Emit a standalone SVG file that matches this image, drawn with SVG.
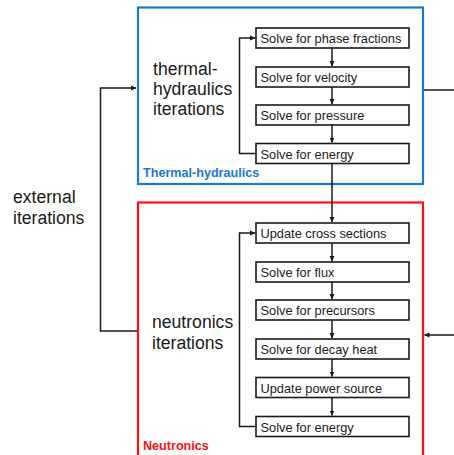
<svg xmlns="http://www.w3.org/2000/svg" width="454" height="455" viewBox="0 0 454 455">
<defs>
<marker id="ah" markerWidth="6" markerHeight="6" refX="5" refY="3" orient="auto" markerUnits="userSpaceOnUse">
<path d="M0,0.5 L5.5,3 L0,5.5 Z" fill="#1a1a1a"/>
</marker>
<style>
.step rect{fill:#fff;stroke:#1a1a1a;stroke-width:1.6}
.step text{font-family:"Liberation Sans",Arial,sans-serif;font-size:12.8px;fill:#1a1a1a}
.big{font-family:"Liberation Sans",Arial,sans-serif;font-size:17.6px;fill:#1a1a1a}
.lbl{font-family:"Liberation Sans",Arial,sans-serif;font-size:12.6px;font-weight:bold}
.conn path{fill:none;stroke:#1a1a1a;stroke-width:1.5}
</style>
</defs>
<rect width="454" height="455" fill="#fff"/>
<g id="th-group">
<rect x="138" y="7.5" width="285" height="176.5" fill="none" stroke="#1a7ad0" stroke-width="2.2"/>
<text class="lbl" x="143" y="177" fill="#1a7ad0">Thermal-hydraulics</text>
<text class="big" x="153" y="75">thermal-</text>
<text class="big" x="153" y="95">hydraulics</text>
<text class="big" x="153" y="115">iterations</text>
</g>
<g id="n-group">
<rect x="138" y="202.5" width="285" height="270" fill="none" stroke="#ff1010" stroke-width="2.2"/>
<text class="lbl" x="143" y="450" fill="#ff1010">Neutronics</text>
<text class="big" x="152" y="328">neutronics</text>
<text class="big" x="152" y="349">iterations</text>
</g>
<g id="ext-label">
<text class="big" x="13" y="203">external</text>
<text class="big" x="13" y="224">iterations</text>
</g>
<g id="th1" class="step"><rect x="256" y="28" width="153" height="20"/><text x="260.5" y="43">Solve for phase fractions</text></g>
<g id="th2" class="step"><rect x="256" y="67" width="153" height="20"/><text x="260.5" y="82">Solve for velocity</text></g>
<g id="th3" class="step"><rect x="256" y="105" width="153" height="20"/><text x="260.5" y="120">Solve for pressure</text></g>
<g id="th4" class="step"><rect x="256" y="143.5" width="153" height="20"/><text x="260.5" y="158.5">Solve for energy</text></g>
<g id="n1" class="step"><rect x="256" y="223" width="153" height="20"/><text x="260.5" y="238">Update cross sections</text></g>
<g id="n2" class="step"><rect x="256" y="262" width="153" height="20"/><text x="260.5" y="277">Solve for flux</text></g>
<g id="n3" class="step"><rect x="256" y="300" width="153" height="20"/><text x="260.5" y="315">Solve for precursors</text></g>
<g id="n4" class="step"><rect x="256" y="339" width="153" height="20"/><text x="260.5" y="354">Solve for decay heat</text></g>
<g id="n5" class="step"><rect x="256" y="377.5" width="153" height="20"/><text x="260.5" y="392.5">Update power source</text></g>
<g id="n6" class="step"><rect x="256" y="416.5" width="153" height="20"/><text x="260.5" y="431.5">Solve for energy</text></g>
<g id="connectors" class="conn">
<path d="M332,48 V66" marker-end="url(#ah)"/>
<path d="M332,87 V104" marker-end="url(#ah)"/>
<path d="M332,125 V142.5" marker-end="url(#ah)"/>
<path d="M256,153.5 H239.5 V38 H255" marker-end="url(#ah)"/>
<path d="M332,163.5 V222" marker-end="url(#ah)"/>
<path d="M332,243 V261" marker-end="url(#ah)"/>
<path d="M332,282 V299" marker-end="url(#ah)"/>
<path d="M332,320 V338" marker-end="url(#ah)"/>
<path d="M332,359 V376.5" marker-end="url(#ah)"/>
<path d="M332,397.5 V415.5" marker-end="url(#ah)"/>
<path d="M256,426.5 H239.5 V233 H255" marker-end="url(#ah)"/>
<path d="M137,331 H100.5 V88 H136" marker-end="url(#ah)"/>
<path d="M424,90 H454"/>
<path d="M454,335 H424.5" marker-end="url(#ah)"/>
</g>
</svg>
